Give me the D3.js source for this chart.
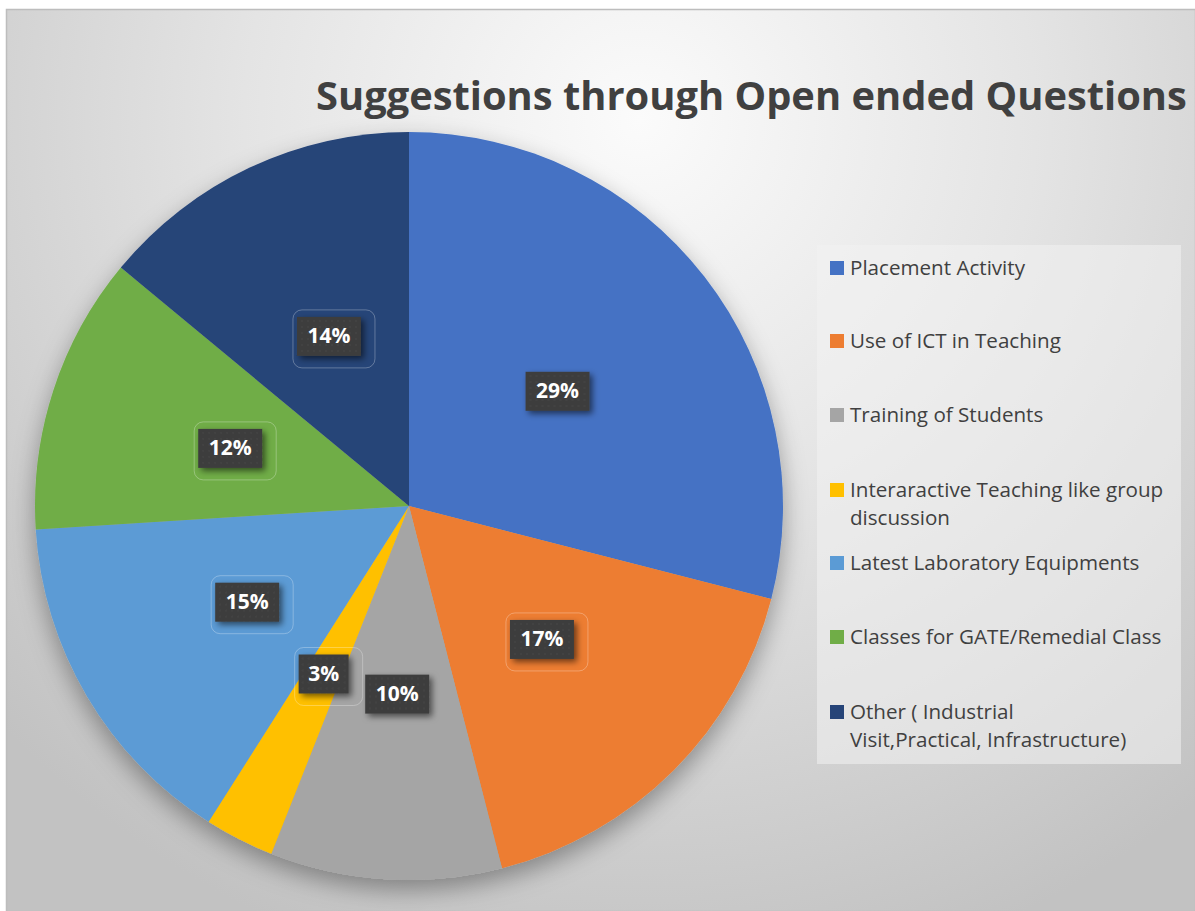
<!DOCTYPE html>
<html>
<head>
<meta charset="utf-8">
<script src="https://cdn.jsdelivr.net/npm/d3@7"></script>
<style>
  html, body { margin: 0; padding: 0; background: #fff; }
  svg { display: block; }
</style>
</head>
<body>
<div id="chart"></div>
<script>
// data
const categories = [
  'Placement Activity',
  'Use of ICT in Teaching',
  'Training of Students',
  'Interaractive Teaching like group discussion',
  'Latest Laboratory Equipments',
  'Classes for GATE/Remedial Class',
  'Other ( Industrial Visit,Practical, Infrastructure)',
];
const values = [29, 17, 10, 3, 15, 12, 14];
const colors = ['#4472C4', '#ED7D31', '#A5A5A5', '#FFC000', '#5B9BD5', '#70AD47', '#264478'];
// legend text split into lines as in the picture
const legendLines = [
  ['Placement Activity'],
  ['Use of ICT in Teaching'],
  ['Training of Students'],
  ['Interaractive Teaching like group', 'discussion'],
  ['Latest Laboratory Equipments'],
  ['Classes for GATE/Remedial Class'],
  ['Other ( Industrial', 'Visit,Practical, Infrastructure)'],
];
// labels that carry a faint callout outline in the picture
const outlined = [false, true, false, true, true, true, true];
const title = 'Suggestions through Open ended Questions';

const width = 1195;
const height = 911;
const cx = 409, cy = 506, radius = 374;

const svg = d3
  .select('#chart')
  .append('svg')
  .attr('width', width)
  .attr('height', height);

const defs = svg.append('defs');

// background gradient
const bg = defs
  .append('radialGradient')
  .attr('id', 'bg')
  .attr('gradientUnits', 'userSpaceOnUse')
  .attr('cx', 640)
  .attr('cy', 120)
  .attr('r', 880);
bg.append('stop').attr('offset', '0%').attr('stop-color', '#fbfbfb');
bg.append('stop').attr('offset', '45%').attr('stop-color', '#e4e4e4');
bg.append('stop').attr('offset', '100%').attr('stop-color', '#c2c2c2');

// pie shadow
const sh = defs.append('filter').attr('id', 'pieShadow')
  .attr('x', '-20%').attr('y', '-20%').attr('width', '140%').attr('height', '140%');
sh.append('feDropShadow')
  .attr('dx', 0).attr('dy', 10).attr('stdDeviation', 12)
  .attr('flood-color', '#000').attr('flood-opacity', 0.35);

// label shadow
const ls = defs.append('filter').attr('id', 'lblShadow')
  .attr('x', '-30%').attr('y', '-30%').attr('width', '160%').attr('height', '160%');
ls.append('feDropShadow')
  .attr('dx', 3).attr('dy', 3).attr('stdDeviation', 3)
  .attr('flood-color', '#000').attr('flood-opacity', 0.55);

// dotted texture in the label boxes
const pat = defs.append('pattern')
  .attr('id', 'dots').attr('patternUnits', 'userSpaceOnUse')
  .attr('width', 6).attr('height', 6);
pat.append('rect').attr('width', 6).attr('height', 6).attr('fill', '#3d3d3d');
pat.append('circle').attr('cx', 3).attr('cy', 3).attr('r', 0.8).attr('fill', '#4a4a4a');

// chart area
svg.append('rect')
  .attr('x', 6.5).attr('y', 9.5)
  .attr('width', width - 6).attr('height', height - 9)
  .attr('fill', 'url(#bg)')
  .attr('stroke', '#bdbdbd')
  .attr('stroke-width', 1.5);

// title
const titleText = svg.append('text')
  .attr('x', 316)
  .attr('y', 110)
  .attr('font-family', 'Open Sans, sans-serif')
  .attr('font-weight', 700)
  .attr('font-size', 40)
  .attr('fill', '#404040')
  .text(title);
const tw = titleText.node().getComputedTextLength();
titleText.attr('font-size', 40 * 871 / tw);

// pie
const pie = d3.pie().sort(null).value((d) => d);
const arcs = pie(values);
const arc = d3.arc().innerRadius(0).outerRadius(radius);
const labelArc = d3.arc().innerRadius(188).outerRadius(188);

const g = svg.append('g').attr('transform', `translate(${cx},${cy})`);

g.append('g')
  .attr('filter', 'url(#pieShadow)')
  .selectAll('path')
  .data(arcs)
  .join('path')
  .attr('d', arc)
  .attr('fill', (d, i) => colors[i]);

// data labels
const lbl = g.selectAll('g.lbl')
  .data(arcs)
  .join('g')
  .attr('class', 'lbl')
  .attr('transform', (d) => `translate(${labelArc.centroid(d)})`);

lbl.each(function (d, i) {
  const sel = d3.select(this);
  const txt = `${d.data}%`;
  const w = txt.length === 2 ? 50 : 64;
  if (outlined[i]) {
    sel.append('rect')
      .attr('x', -w / 2 - 4).attr('y', -26)
      .attr('width', w + 18).attr('height', 58)
      .attr('rx', 9)
      .attr('fill', 'none')
      .attr('stroke', '#ffffff')
      .attr('stroke-opacity', 0.28)
      .attr('stroke-width', 1);
  }
  sel.append('rect')
    .attr('x', -w / 2).attr('y', -19)
    .attr('width', w).attr('height', 39)
    .attr('fill', 'url(#dots)')
    .attr('filter', 'url(#lblShadow)');
  sel.append('text')
    .attr('text-anchor', 'middle')
    .attr('dy', '0.36em')
    .attr('font-family', 'Open Sans, sans-serif')
    .attr('font-weight', 700)
    .attr('font-size', 21)
    .attr('fill', '#fff')
    .text(txt);
});

// legend
const legend = svg.append('g');
legend.append('rect')
  .attr('x', 817).attr('y', 245)
  .attr('width', 364).attr('height', 519)
  .attr('fill', '#f2f2f2')
  .attr('fill-opacity', 0.55);

const legendY = [268, 341, 415, 490, 563, 637, 712];
const item = legend.selectAll('g.item')
  .data(categories)
  .join('g')
  .attr('class', 'item')
  .attr('transform', (d, i) => `translate(830,${legendY[i]})`);

item.append('rect')
  .attr('x', 0).attr('y', -7)
  .attr('width', 14).attr('height', 14)
  .attr('fill', (d, i) => colors[i]);

item.append('text')
  .attr('font-family', 'Open Sans, sans-serif')
  .attr('font-size', 20.6)
  .attr('fill', '#404040')
  .selectAll('tspan')
  .data((d, i) => legendLines[i])
  .join('tspan')
  .attr('x', 20)
  .attr('y', (d, j) => j * 28)
  .attr('dy', '0.35em')
  .text((d) => d);
</script>
</body>
</html>
